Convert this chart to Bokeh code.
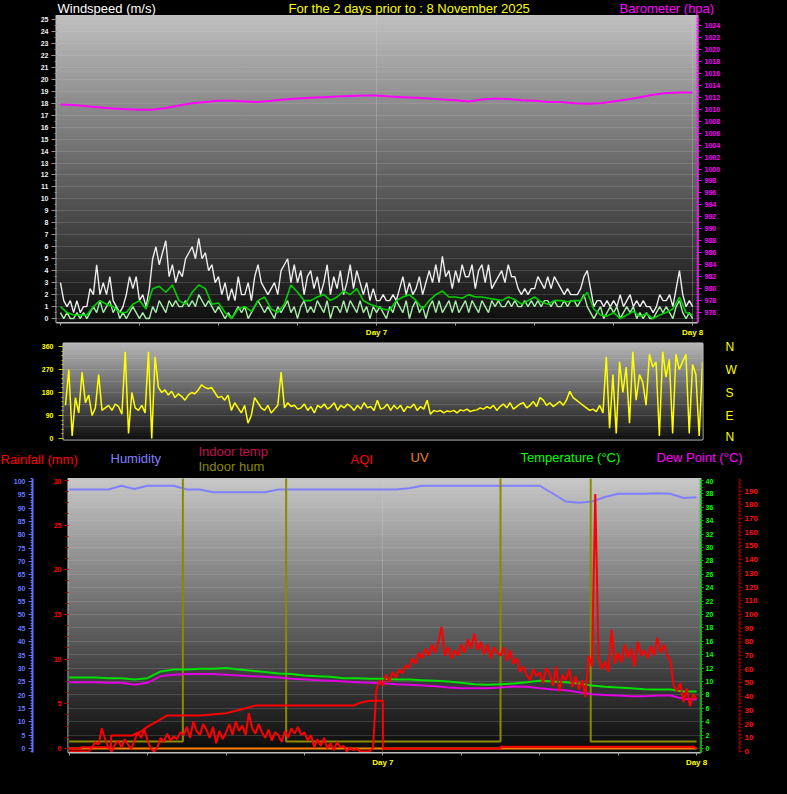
import numpy as np
from bokeh.plotting import figure
from bokeh.models import (LinearAxis, Range1d, FixedTicker, SingleIntervalTicker,
                          Label, GlobalInlineStyleSheet)
from bokeh.layouts import column, row
from bokeh.embed import file_html
from bokeh.resources import INLINE

# ---------------- data (hours since start of the 2-day window; 24 = Day 7, 48 = Day 8) -------------
day_ticks = [0, 6, 12, 18, 24, 30, 36, 42, 48]
day_labels = {0: "", 6: "", 12: "", 18: "", 24: "Day 7", 30: "", 36: "", 42: "", 48: "Day 8"}

# wind gust (m/s), every 15 min
gust = [3, 1.5, 1, 1.5, 0.5, 1.5, 0.5, 1, 1, 2.5, 2, 4.5, 2, 3, 2, 3.5,
        1.5, 1, 0.5, 1, 2, 3.5, 2.5, 3.5, 1.5, 2, 1, 2.5, 5, 6, 4.5, 5.5,
        6.5, 3.5, 4.5, 3, 4, 3.5, 5, 5.5, 6, 5, 6.7, 5, 5.5, 4, 4.5, 3,
        3.5, 2, 3, 1.5, 2.5, 1.5, 3.5, 2, 2, 3, 1.5, 3.5, 4.5, 3, 2.5, 2,
        2.5, 3, 2, 4, 4.5, 5, 3, 4.5, 3, 4, 2, 3.5, 4, 2.5, 3.5, 2,
        3, 4.5, 2, 3.5, 2.5, 4, 2, 3, 4.5, 2.5, 4, 3, 2, 3, 1.5, 2.5,
        1.5, 1.5, 2, 1.5, 1.5, 2, 1.5, 2.5, 3.5, 2, 3, 2, 2.5, 3.5, 2, 3,
        4, 3, 4.5, 3, 5.2, 3.5, 4, 2.5, 4, 3, 4.5, 3.5, 3.5, 4.5, 2.5, 4,
        4.5, 3, 4.5, 2.5, 3, 3.5, 4, 3, 4.5, 3.5, 3.5, 2.5, 2, 2.5, 2, 2.5,
        2.5, 3.5, 3, 2.5, 3.5, 2.5, 3.5, 3, 2.5, 2, 2.5, 2, 2, 2, 2.5, 3.5,
        4, 2.5, 1, 1.5, 1.5, 1, 1.5, 1, 1.5, 1, 2, 1, 1.5, 2, 1, 1.5,
        1, 1.5, 1, 1, 0.5, 1, 2, 1.5, 1.5, 2, 1, 2.5, 4, 2, 1, 1.5, 1]

# wind speed (m/s), every 15 min
speed = [0.5, 0, 0.5, 0, 0, 0.5, 0, 0.5, 0, 0.5, 1, 0.5, 1.5, 0.5, 1, 1.5,
         0.5, 1, 0, 0.5, 0, 0.5, 1, 0.5, 0, 0.5, 0, 0, 1, 0.5, 1.5, 1,
         0.5, 1.5, 1, 1.5, 1, 1, 1.5, 1, 1.5, 1, 2, 1.5, 1, 1.5, 1, 0.5,
         1, 0.5, 0, 0.5, 0, 0.5, 1, 0.5, 1, 0, 0.5, 1, 1.5, 1, 0.5, 1,
         0.5, 0, 1, 0.5, 1, 1.5, 0.5, 1, 0, 1, 1.5, 0.5, 1, 0.5, 1.5, 1,
         0.5, 1.5, 0, 1, 1, 0.5, 1.5, 0.5, 1.5, 1, 0.5, 1.5, 0.5, 1, 0, 1,
         0.5, 1, 0.5, 0, 1, 0.5, 1.5, 1, 0.5, 1.5, 0, 1, 1.5, 0.5, 1, 0,
         1, 1.5, 0.5, 1.5, 0.5, 1, 1.5, 0.5, 1.5, 0.5, 1, 1.5, 0.5, 1.5, 1, 0.5,
         1.5, 1, 0.5, 1.5, 1, 1.5, 1, 1, 1.5, 1, 1.5, 1, 1, 1.5, 1, 1.5,
         1, 1.5, 1, 1.5, 1.5, 1, 1.5, 1, 1, 1.5, 1, 1.5, 1.5, 1, 1.5, 2,
         1, 0.5, 0, 0.5, 1, 0, 0.5, 1, 0.5, 1, 0, 0.5, 1, 0.5, 1, 0,
         0.5, 0, 0.5, 0, 0, 0.5, 1, 0.5, 1, 0.5, 0, 1, 1.5, 0.5, 0, 0.5, 0]

# average wind speed (m/s), every 30 min
avg_speed = [1, 0.5, 0.3, 0.3, 0.3, 1, 1.5, 1.2, 1, 0.5, 0.5, 1.2, 1.5, 0.8, 2.5, 2.7,
             2.2, 2.8, 1.5, 1.2, 2.2, 2.8, 2.5, 1.2, 1.3, 0.5, 0, 0.8, 1, 0.6, 1.5, 1.8,
             0.8, 0.5, 1.2, 2.8, 2.2, 1.5, 1.5, 1.8, 2, 1.5, 1.8, 2.3, 2, 2.5, 1.5, 1.2,
             1, 0.8, 0.7, 1.5, 1.8, 2, 1.5, 0.8, 1.5, 2, 2.3, 1.8, 1.8, 1.7, 2, 1.8,
             1.8, 1.7, 1.6, 1.5, 1.8, 1.6, 1.2, 1.5, 1.8, 1.4, 1.2, 1.5, 1.5, 1.4, 1.5, 1.5,
             2.2, 0.8, 0.3, 0.2, 0.5, 0, 0.3, 0.6, 0.2, 0.4, 0, 0.3, 0.5, 0.8, 1.8, 0.5, 0.3]

# barometer (hPa), hourly
baro = [1010.8, 1010.7, 1010.5, 1010.3, 1010.1, 1010.0, 1009.9, 1009.9, 1010.2, 1010.6,
        1011.0, 1011.2, 1011.4, 1011.4, 1011.3, 1011.2, 1011.4, 1011.6, 1011.8, 1011.9,
        1012.0, 1012.1, 1012.2, 1012.3, 1012.3, 1012.1, 1012.0, 1011.9, 1011.8, 1011.6,
        1011.5, 1011.3, 1011.6, 1011.8, 1011.7, 1011.5, 1011.4, 1011.2, 1011.2, 1011.0,
        1010.9, 1011.0, 1011.3, 1011.6, 1012.0, 1012.4, 1012.7, 1012.8, 1012.8]

# wind direction (degrees), every 15 min
direction = [130, 270, 10, 160, 100, 260, 140, 170, 90, 120, 250, 110, 120, 130, 110, 135,
             125, 95, 340, 20, 180, 120, 110, 130, 100, 340, 0, 320, 200, 180, 190, 170,
             185, 160, 175, 165, 150, 170, 180, 175, 190, 210, 200, 195, 200, 180, 160, 165,
             150, 170, 110, 140, 120, 100, 130, 60, 90, 160, 140, 120, 110, 130, 100, 115,
             130, 260, 120, 140, 125, 130, 115, 120, 135, 110, 125, 100, 130, 120, 135, 115,
             125, 140, 110, 130, 120, 135, 125, 110, 130, 115, 140, 120, 125, 110, 150, 115,
             120, 135, 110, 130, 115, 130, 105, 125, 120, 135, 110, 125, 115, 150, 95, 110,
             105, 110, 100, 108, 105, 110, 100, 112, 108, 115, 105, 110, 112, 120, 115, 125,
             118, 130, 110, 125, 135, 120, 140, 115, 125, 135, 140, 120, 130, 145, 125, 160,
             150, 130, 140, 125, 135, 145, 130, 150, 185, 160, 150, 140, 130, 120, 110, 115,
             105, 130, 100, 320, 40, 250, 20, 300, 180, 280, 60, 340, 150, 250, 220, 130,
             330, 280, 300, 10, 340, 240, 310, 20, 330, 270, 300, 330, 20, 290, 250, 10, 300]

# humidity (%), hourly
humidity = [97, 97, 97, 97, 98.4, 97.2, 98.4, 98.4, 98.4, 97, 97, 96, 96, 96, 96, 96,
            97, 97, 97, 97, 97, 97, 97, 97, 97, 97, 97.5, 98.4, 98.4, 98.4, 98.4, 98.4,
            98.4, 98.4, 98.4, 98.4, 98.4, 95.5, 92.5, 92, 92.5, 94.2, 95.4, 95.4, 95.4, 95.6,
            95.4, 93.8, 94.1]

# temperature and dew point (C), hourly
temperature = [10.6, 10.6, 10.6, 10.5, 10.5, 10.3, 10.5, 11.5, 11.8, 11.8,
               11.9, 11.9, 12.0, 11.8, 11.6, 11.4, 11.2, 11.1, 10.9, 10.8,
               10.7, 10.5, 10.5, 10.4, 10.4, 10.3, 10.3, 10.2, 10.1, 10.0,
               9.8, 9.6, 9.5, 9.6, 9.7, 9.9, 10.1, 10.0, 9.9, 9.7,
               9.4, 9.2, 9.1, 9.0, 8.85, 8.8, 8.8, 8.5, 8.5]
dew_point = [9.9, 9.9, 9.9, 9.8, 9.8, 9.5, 9.8, 10.8, 11.0, 11.1,
             11.1, 11.1, 11.0, 10.9, 10.8, 10.7, 10.6, 10.4, 10.3, 10.2,
             10.1, 10.0, 9.9, 9.8, 9.75, 9.6, 9.5, 9.4, 9.3, 9.1,
             9.0, 9.0, 9.0, 9.1, 9.25, 9.2, 9.0, 8.8, 8.7, 8.4,
             8.1, 8.0, 7.9, 7.8, 7.8, 7.9, 7.9, 7.4, 7.3]

# rainfall (mm), step changes
rain_t = [0, 0.9, 0.9, 3.2, 3.2, 4.8, 5.5, 6.0, 6.7, 7.5, 10.0, 12.0, 13.5, 14.2,
          21.8, 22.2, 23.0, 24.0, 24.0, 33.0, 33.0, 47.8, 48.0]
rain = [0, 0, 0.15, 0.15, 1.45, 1.45, 1.9, 2.45, 3.0, 3.7, 3.7, 3.95, 4.5, 4.8,
        4.8, 5.1, 5.35, 5.35, 0, 0, 0.18, 0.18, 0]

# AQI, every 15 min
aqi = [0, 0, 0, 0, 0, 0, 0, 3, 7, 5, 17, 9, 3, 0, 5, 8,
       3, 9, 5, 2, 8, 14, 10, 16, 8, 2, 0, 3, 10, 7, 13, 8,
       11, 9, 14, 12, 18, 10, 22, 15, 12, 20, 16, 10, 18, 6, 15, 9,
       14, 20, 12, 22, 15, 19, 12, 28, 17, 13, 20, 14, 10, 16, 8, 14,
       12, 7, 15, 10, 17, 13, 18, 12, 14, 8, 12, 3, 9, 4, 10, 2,
       6, 1, 7, 3, 4, 0, 3, 1, 2, 0, 0, 0, 0, 3, 45, 52,
       48, 56, 51, 58, 54, 60, 57, 63, 61, 68, 64, 72, 68, 75, 70, 78,
       72, 80, 91, 70, 76, 68, 74, 70, 78, 72, 82, 75, 86, 74, 80, 71,
       78, 68, 76, 72, 70, 76, 66, 74, 64, 68, 58, 62, 56, 52, 60, 55,
       58, 50, 61, 57, 48, 62, 44, 56, 52, 60, 47, 55, 45, 52, 40, 70,
       62, 188, 68, 60, 66, 58, 89, 64, 72, 65, 78, 68, 75, 62, 80, 70,
       74, 68, 77, 70, 83, 72, 78, 70, 66, 48, 44, 50, 36, 46, 33, 42, 38]

# indoor humidity (off scale when high)
indoor_hum_t = [0, 8.7, 8.7, 16.6, 16.6, 33.0, 33.0, 39.9, 39.9, 48]
indoor_hum = [2.6, 2.6, 110, 110, 2.6, 2.6, 110, 110, 2.6, 2.6]

# UV index
uv_t = [0, 48]
uv = [0, 0]

# --------------------------------------------------------------------------------------------
FONT = "Liberation Sans"
W = 771


def t_of(arr):
    return np.linspace(0, 48, len(arr))


def base_fig(fw, fh, bl, br, bt, bb, xr, yr, xloc, yloc):
    p = figure(frame_width=fw, frame_height=fh, min_border_left=bl, min_border_right=br,
               min_border_top=bt, min_border_bottom=bb, x_range=xr, y_range=yr,
               output_backend="svg", toolbar_location=None,
               background_fill_color="#000000", border_fill_color="#000000",
               outline_line_color="#c8c8c8", outline_line_width=2,
               x_axis_location=xloc, y_axis_location=yloc)
    return p


def header_fig(h):
    p = figure(width=W, height=h, min_border=0, x_range=Range1d(0, W), y_range=Range1d(0, h),
               output_backend="svg", toolbar_location=None,
               background_fill_color="#000000", border_fill_color="#000000",
               outline_line_color=None, x_axis_location=None, y_axis_location=None)
    p.xgrid.visible = False
    p.ygrid.visible = False
    return p


def gradient(p, xr, yr, top_val, bot_val, n=70, **kw):
    edges = np.linspace(yr.start, yr.end, n + 1)
    mids = (edges[:-1] + edges[1:]) / 2
    frac = (mids - yr.start) / (yr.end - yr.start)
    vals = bot_val + (top_val - bot_val) * frac
    cols = ["#%02x%02x%02x" % (int(v), int(v), int(v)) for v in vals]
    p.quad(left=xr.start, right=xr.end, bottom=edges[:-1], top=edges[1:],
           fill_color=cols, line_color=cols, line_width=1, level="image", **kw)


def style_axis(ax, tick_color, label_color, size="7px", line_color=None, tick_out=4,
               standoff=3, bold=True):
    ax.axis_line_color = line_color
    ax.major_tick_line_color = tick_color
    ax.minor_tick_line_color = tick_color
    ax.major_tick_out = tick_out
    ax.major_tick_in = 0
    ax.minor_tick_out = 2
    ax.minor_tick_in = 0
    ax.major_label_text_color = label_color
    ax.major_label_text_font = FONT
    ax.major_label_text_font_size = size
    ax.major_label_text_font_style = "bold" if bold else "normal"
    ax.major_label_standoff = standoff


def txt(p, x, y, s, color, size="13px"):
    p.add_layout(Label(x=x, y=y, x_units="screen", y_units="screen", text=s,
                       text_color=color, text_font=FONT, text_font_size=size,
                       text_baseline="middle", text_align="left"))


def grid_style(g):
    g.grid_line_color = "#d0d0d0"
    g.grid_line_alpha = 0.35
    g.grid_line_dash = "1 1"


# ---------------- header above panel 1 ----------------
h1 = header_fig(15)
txt(h1, 57, 7.5, "Windspeed (m/s)", "#ffffff")
txt(h1, 288, 7.5, "For the 2 days prior to : 8 November 2025", "#ffff00")
txt(h1, 619, 7.5, "Barometer (hpa)", "#ff00ff")

# ---------------- panel 1: wind speed + barometer ----------------
xr1 = Range1d(-0.3, 48.37)
yr1 = Range1d(-0.33, 25.33)
p1 = base_fig(641, 307, 56, 74, 0, 16, xr1, yr1, "below", "left")
p1.extra_y_ranges = {"baro": Range1d(974.34, 1025.66)}
gradient(p1, xr1, yr1, 192, 14)

p1.yaxis.ticker = SingleIntervalTicker(interval=1, num_minor_ticks=2)
style_axis(p1.yaxis[0], "#909090", "#f0f0f0", tick_out=5, standoff=3)
p1.xaxis.ticker = FixedTicker(ticks=day_ticks)
p1.xaxis.major_label_overrides = day_labels
style_axis(p1.xaxis[0], "#a0a0a0", "#ffff00", size="8px", line_color="#c0c0c0", tick_out=3, standoff=2)
p1.xaxis.minor_tick_line_color = None

ax_b = LinearAxis(y_range_name="baro", ticker=SingleIntervalTicker(interval=2, num_minor_ticks=2))
style_axis(ax_b, "#ff00ff", "#ff00ff", line_color="#ff00ff", tick_out=4, standoff=3)
ax_b.axis_line_dash = "2 1"
ax_b.axis_line_width = 2
p1.add_layout(ax_b, "right")

p1.ygrid.ticker = SingleIntervalTicker(interval=1)
p1.xgrid.ticker = FixedTicker(ticks=[24, 48])
grid_style(p1.ygrid[0])
grid_style(p1.xgrid[0])
p1.xgrid.grid_line_alpha = 0.6

p1.line(t_of(gust), gust, line_color="#ececec", line_width=1.4)
p1.line(t_of(speed), speed, line_color="#a8eca8", line_width=1.4)
p1.line(t_of(avg_speed), avg_speed, line_color="#00d000", line_width=1.6)
p1.line(t_of(baro), baro, y_range_name="baro", line_color="#ff00ff", line_width=2)

# ---------------- panel 2: wind direction ----------------
xr2 = Range1d(-0.15, 48.0)
yr2 = Range1d(-4, 372)
p2 = base_fig(639, 96, 63, 69, 4, 4, xr2, yr2, None, "left")
p2.xgrid.visible = False
gradient(p2, xr2, yr2, 182, 16)
p2.yaxis.ticker = FixedTicker(ticks=[0, 90, 180, 270, 360],
                              minor_ticks=[18, 36, 54, 72, 108, 126, 144, 162, 198, 216, 234, 252,
                                           288, 306, 324, 342])
style_axis(p2.yaxis[0], "#c8c800", "#ffff00", tick_out=5, standoff=5)
p2.ygrid.ticker = FixedTicker(ticks=[45, 90, 135, 180, 225, 270, 315])
grid_style(p2.ygrid[0])

ax_c = LinearAxis(ticker=FixedTicker(ticks=[0, 90, 180, 270, 360]),
                  major_label_overrides={0: "N", 90: "E", 180: "S", 270: "W", 360: "N"})
style_axis(ax_c, None, "#ffff00", size="12px", tick_out=0, standoff=23, bold=False)
ax_c.minor_tick_line_color = None
ax_c.minor_tick_out = 0
p2.add_layout(ax_c, "right")

p2.line(t_of(direction), direction, line_color="#ffff00", line_width=1.5)

# ---------------- header above panel 3 ----------------
h3 = header_fig(35)
txt(h3, 0, 19, "Rainfall (mm)", "#ff0000")
txt(h3, 110, 20, "Humidity", "#8080ff")
txt(h3, 198, 27.5, "Indoor temp", "#c01050")
txt(h3, 198, 12.5, "Indoor hum", "#8a8a00")
txt(h3, 350, 19, "AQI", "#ff0000")
txt(h3, 410, 21, "UV", "#f08020")
txt(h3, 520, 21, "Temperature (\u00b0C)", "#00ff00")
txt(h3, 656, 21, "Dew Point (\u00b0C)", "#ff00ff")

# ---------------- panel 3: rain, humidity, AQI, temperature ----------------
xr3 = Range1d(-0.05, 48.3)
yr3 = Range1d(-0.6, 40.3)   # temperature
p3 = base_fig(632, 274, 68, 71, 0, 27, xr3, yr3, "below", "right")
p3.extra_y_ranges = {"hum": Range1d(-1.5, 101.12), "rain": Range1d(-0.45, 30.22),
                     "aqi": Range1d(-0.73, 199.27)}
gradient(p3, xr3, yr3, 200, 10)

p3.xaxis.ticker = FixedTicker(ticks=day_ticks)
p3.xaxis.major_label_overrides = day_labels
style_axis(p3.xaxis[0], "#a0a0a0", "#ffff00", size="8px", line_color="#c0c0c0", tick_out=3, standoff=2)
p3.xaxis.minor_tick_line_color = None

# temperature (inner right)
p3.yaxis.ticker = SingleIntervalTicker(interval=2, num_minor_ticks=4)
ax_t = p3.yaxis[0]
style_axis(ax_t, "#00c000", "#00ff00", line_color="#00c000", tick_out=3, standoff=2)
ax_t.axis_line_dash = "1 1"
ax_t.axis_line_width = 2
ax_t.axis_label = " "
ax_t.axis_label_text_font_size = "10px"
ax_t.axis_label_standoff = 9

# AQI (outer right)
ax_q = LinearAxis(y_range_name="aqi", ticker=SingleIntervalTicker(interval=10, num_minor_ticks=4))
style_axis(ax_q, "#900000", "#ff1010", size="8px", line_color="#900000", tick_out=3, standoff=2)
ax_q.axis_line_dash = "3 1"
ax_q.axis_line_width = 2
p3.add_layout(ax_q, "right")

# rainfall (inner left)
ax_r = LinearAxis(y_range_name="rain", ticker=SingleIntervalTicker(interval=5, num_minor_ticks=4))
style_axis(ax_r, "#ff0000", "#ff0000", tick_out=4, standoff=3)
ax_r.minor_tick_line_color = "#a00000"
ax_r.minor_tick_out = 3
ax_r.axis_label = " "
ax_r.axis_label_text_font_size = "10px"
ax_r.axis_label_standoff = 4
p3.add_layout(ax_r, "left")

# humidity (outer left)
ax_h = LinearAxis(y_range_name="hum", ticker=SingleIntervalTicker(interval=5, num_minor_ticks=5))
style_axis(ax_h, "#6070ff", "#6878ff", line_color="#6070ff", tick_out=4, standoff=3)
ax_h.axis_line_width = 2
p3.add_layout(ax_h, "left")

p3.ygrid.ticker = SingleIntervalTicker(interval=2)
p3.xgrid.ticker = FixedTicker(ticks=[24])
grid_style(p3.ygrid[0])
grid_style(p3.xgrid[0])
p3.xgrid.grid_line_alpha = 0.6

p3.line(t_of(humidity), humidity, y_range_name="hum", line_color="#8080ff", line_width=2)
p3.line(indoor_hum_t, indoor_hum, y_range_name="hum", line_color="#8a8a00", line_width=2)
p3.line(uv_t, uv, line_color="#ff8000", line_width=2)
p3.line(t_of(temperature), temperature, line_color="#00e000", line_width=2)
p3.line(t_of(dew_point), dew_point, line_color="#e000e0", line_width=2)
p3.line(rain_t, rain, y_range_name="rain", line_color="#ff0000", line_width=2)
p3.line(t_of(aqi), aqi, y_range_name="aqi", line_color="#ff0000", line_width=2)

page = column(row(h1), row(p1), row(p2), row(h3), row(p3), spacing=0,
              styles={"background-color": "#000000"},
              stylesheets=[GlobalInlineStyleSheet(css="html, body { background: #000000; margin: 0; }")])

open("out.html", "w").write(file_html(page, INLINE))
